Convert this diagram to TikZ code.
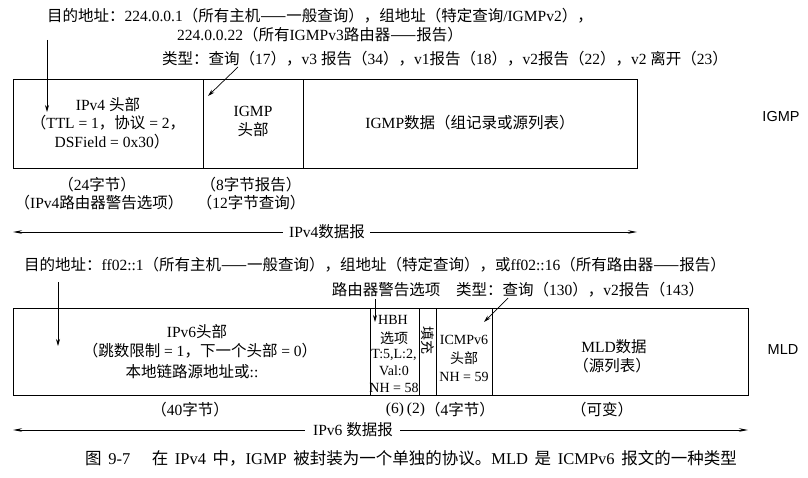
\documentclass[tikz,border=0pt]{standalone}
\usepackage{fontspec}
\setmainfont{Liberation Serif}
\newfontfamily\cjkfont{Noto Sans CJK SC}
\newfontfamily\latinfont{Liberation Serif}
\newfontfamily\labelsans{Liberation Sans}
\usetikzlibrary{arrows.meta}
\XeTeXinterchartokenstate=1
\newXeTeXintercharclass\mycjk
\newcount\mycnt
\def\setcjkrange#1#2{\mycnt=#1\relax\loop\XeTeXcharclass\mycnt=\mycjk\ifnum\mycnt<#2\relax\advance\mycnt by 1\repeat}
\setcjkrange{"4E00}{"9FFF}
\setcjkrange{"3000}{"303F}
\setcjkrange{"FF00}{"FFEF}
\setcjkrange{"2014}{"2014}
\XeTeXinterchartoks 0 \mycjk = {\cjkfont}
\XeTeXinterchartoks 4095 \mycjk = {\cjkfont}
\XeTeXinterchartoks \mycjk 0 = {\latinfont}
\XeTeXinterchartoks \mycjk 4095 = {\latinfont}
\newcommand{\gap}{\hspace{0.4em}}
\tikzset{
  txt/.style={font=\fontsize{15.5}{18}\selectfont, inner sep=0pt, text=black},
  captxt/.style={font=\fontsize{16.5}{19}\selectfont, inner sep=0pt, text=black},
  celltxt/.style={font=\fontsize{14}{16}\selectfont, inner sep=0pt, text=black},
  sidelbl/.style={font=\labelsans\fontsize{14.5}{16}\selectfont, inner sep=0pt, text=black},
  cell/.style={draw=black, line width=0.9pt, anchor=north west, inner sep=0pt},
  ptr/.style={draw=black, line width=0.7pt, -{Stealth[length=7pt,width=4pt]}},
  spanarrow/.style={draw=black, line width=0.7pt, -{Stealth[length=9pt,width=3.5pt]}}
}
\begin{document}
\begin{tikzpicture}[x=1pt,y=-1pt]
\useasboundingbox (0,0) rectangle (808,478);
% ---------- IGMP part ----------
\node[txt] (t1) at (320,16) {目的地址：224.0.0.1（所有主机——一般查询），组地址（特定查询/IGMPv2），};
\node[txt] (t2) at (320,35) {224.0.0.22（所有IGMPv3路由器——报告）};
\node[txt] (t3) at (445,59) {类型：查询（17），v3 报告（34），v1报告（18），v2报告（22），v2 离开（23）};

\node[cell, minimum width=190pt, minimum height=89pt] (v4h) at (13,79) {};
\node[cell, minimum width=100pt, minimum height=89pt] (igh) at (203,79) {};
\node[cell, minimum width=334pt, minimum height=89pt] (igd) at (303,79) {};

\node[txt] (v4a) at (108,105) {IPv4 头部};
\node[txt] (v4b) at (108,123) {（TTL = 1，协议 = 2，};
\node[txt] (v4c) at (112,142) {DSField = 0x30）};
\node[txt] (igha) at (253,111) {IGMP};
\node[txt] (ighb) at (253,130) {头部};
\node[txt] (igda) at (470,123) {IGMP数据（组记录或源列表）};
\node[sidelbl] (igmplbl) at (781,117) {IGMP};

\coordinate (d4s) at (47,40);
\coordinate (d4e) at (47,112);
\draw[ptr] (d4s) -- (d4e);
\coordinate (ty4s) at (238,67);
\coordinate (ty4e) at (208,96);
\draw[ptr] (ty4s) -- (ty4e);

\node[txt] (b24) at (97,185) {（24字节）};
\node[txt] (bra) at (99,203) {（IPv4路由器警告选项）};
\node[txt] (b8) at (251,185) {（8字节报告）};
\node[txt] (b12) at (251,203) {（12字节查询）};

\node[txt] (v4dg) at (327,232) {IPv4数据报};
\coordinate (v4l) at (13,232);
\coordinate (v4r) at (637,232);
\draw[spanarrow] ([xshift=-6pt]v4dg.west) -- (v4l);
\draw[spanarrow] ([xshift=5pt]v4dg.east) -- (v4r);

% ---------- MLD part ----------
\node[txt] (u1) at (375,265) {目的地址：ff02::1（所有主机——一般查询），组地址（特定查询），或ff02::16（所有路由器——报告）};
\node[txt] (u2) at (386,290) {路由器警告选项};
\node[txt] (u3) at (580,290) {类型：查询（130），v2报告（143）};

\node[cell, minimum width=357pt, minimum height=87pt] (v6h) at (13,308) {};
\node[cell, minimum width=49pt, minimum height=87pt] (hbh) at (370,308) {};
\node[cell, minimum width=17pt, minimum height=87pt] (pad) at (419,308) {};
\node[cell, minimum width=56pt, minimum height=87pt] (icmp) at (436,308) {};
\node[cell, minimum width=256pt, minimum height=87pt] (mld) at (492,308) {};

\node[txt] (v6a) at (197,332) {IPv6头部};
\node[txt] (v6b) at (200,351) {（跳数限制 = 1，下一个头部 = 0）};
\node[txt] (v6c) at (192,372) {本地链路源地址或::};

\node[celltxt] (hb1) at (393,320) {HBH};
\node[celltxt] (hb2) at (394,338) {选项};
\node[celltxt] (hb3) at (394,355) {T:5,L:2,};
\node[celltxt] (hb4) at (394,371) {Val:0};
\node[celltxt] (hb5) at (394,388) {NH = 58};
\node[celltxt, rotate=-90] (padt) at (428,340) {填充};
\node[celltxt] (ic1) at (464,340) {ICMPv6};
\node[celltxt] (ic2) at (464,358) {头部};
\node[celltxt] (ic3) at (464,377) {NH = 59};
\node[txt] (md1) at (614,347) {MLD数据};
\node[txt] (md2) at (612,366) {（源列表）};
\node[sidelbl] (mldlbl) at (783,350) {MLD};

\coordinate (d6s) at (58,282);
\coordinate (d6e) at (58,346);
\draw[ptr] (d6s) -- (d6e);
\coordinate (ras) at (375,299);
\coordinate (rae) at (375,322);
\draw[ptr] (ras) -- (rae);
\coordinate (ty6s) at (508,298);
\coordinate (ty6e) at (484,322);
\draw[ptr] (ty6s) -- (ty6e);

\node[txt] (b40) at (190,410) {（40字节）};
\node[txt] (b6) at (395,410) {(6)};
\node[txt] (b2) at (416,410) {(2)};
\node[txt] (b4) at (460,410) {（4字节）};
\node[txt] (bvar) at (602,410) {（可变）};

\node[txt] (v6dg) at (353,430) {IPv6 数据报};
\coordinate (v6l) at (13,430);
\coordinate (v6r) at (748,430);
\draw[spanarrow] ([xshift=-8pt]v6dg.west) -- (v6l);
\draw[spanarrow] ([xshift=7pt]v6dg.east) -- (v6r);

% ---------- caption ----------
\node[captxt] (cap) at (411,458) {图\gap 9-7\hspace{1.3em}在\gap IPv4\gap 中，IGMP\gap 被封装为一个单独的协议。MLD\gap 是\gap ICMPv6\gap 报文的一种类型};
\end{tikzpicture}
\end{document}
